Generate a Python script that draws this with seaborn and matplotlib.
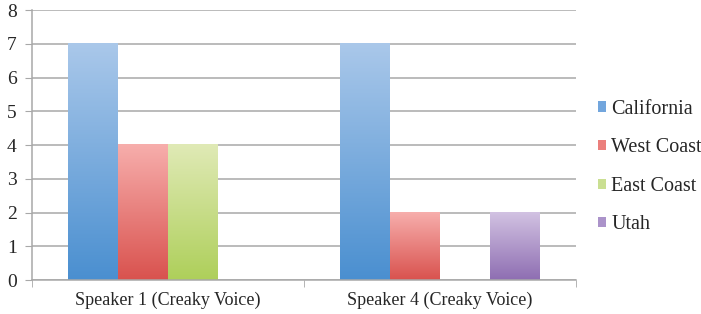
import numpy as np
import pandas as pd
import matplotlib
matplotlib.use('Agg')
import matplotlib.pyplot as plt
import seaborn as sns
from matplotlib.colors import LinearSegmentedColormap
from matplotlib.patches import Patch

speakers = ['Speaker 1 (Creaky Voice)', 'Speaker 4 (Creaky Voice)']
regions = ['California', 'West Coast', 'East Coast', 'Utah']
california = [7, 7]
west_coast = [4, 2]
east_coast = [4, 0]
utah = [0, 2]

top_colors = ['#aac8ea', '#f7aeac', '#e0eab6', '#d2c2e2']
bottom_colors = ['#4a8fd0', '#d9524e', '#aecf5a', '#8e6eb2']
legend_colors = ['#72a6dd', '#eb7f7c', '#cadf92', '#ab93ca']

df = pd.DataFrame({
    'speaker': speakers * 4,
    'region': np.repeat(regions, 2),
    'count': california + west_coast + east_coast + utah,
})

sns.set_style('white')
plt.rcParams['font.family'] = ['Liberation Serif', 'DejaVu Serif']

fig = plt.figure(figsize=(7.01, 3.14), dpi=100)
ax = fig.add_axes([0.0456, 0.108, 0.776, 0.86])

sns.barplot(data=df, x='speaker', y='count', hue='region', order=speakers,
            hue_order=regions, palette=legend_colors, width=0.735,
            legend=False, ax=ax)

grad = np.linspace(0, 1, 256).reshape(-1, 1)
for cont, top, bot in zip(ax.containers, top_colors, bottom_colors):
    cmap = LinearSegmentedColormap.from_list('g', [bot, top])
    for bar in cont:
        h = bar.get_height()
        bar.set_visible(False)
        if h <= 0:
            continue
        x0 = bar.get_x()
        w = bar.get_width()
        ax.imshow(grad, extent=[x0, x0 + w, 0, h], origin='lower', cmap=cmap,
                  aspect='auto', zorder=2)

ax.set_xlim(-0.5, 1.5)
ax.set_ylim(0, 8)
ax.set_yticks(range(0, 9))
ax.set_xlabel('')
ax.set_ylabel('')
ax.yaxis.grid(True, color='#a8a8a8', lw=1.1)
ax.set_axisbelow(True)
for s in ['top', 'right']:
    ax.spines[s].set_visible(False)
for s in ['left', 'bottom']:
    ax.spines[s].set_color('#a8a8a8')
    ax.spines[s].set_linewidth(1.1)
ax.tick_params(axis='y', left=True, length=5, color='#a8a8a8', labelsize=14, pad=6)
ax.set_xticks([-0.5, 0.5, 1.5], minor=True)
ax.tick_params(axis='x', which='major', length=0, labelsize=13, pad=8)
ax.tick_params(axis='x', which='minor', bottom=True, length=5, color='#a8a8a8')

handles = [Patch(facecolor=c, edgecolor='none', label=r) for c, r in zip(legend_colors, regions)]
fig.legend(handles=handles, loc='center left', bbox_to_anchor=(0.833, 0.468),
           frameon=False, fontsize=14.5, handlelength=0.4, handleheight=0.4,
           handletextpad=0.25, labelspacing=0.97, borderpad=0.2)

fig.savefig('out.png', dpi=100)
